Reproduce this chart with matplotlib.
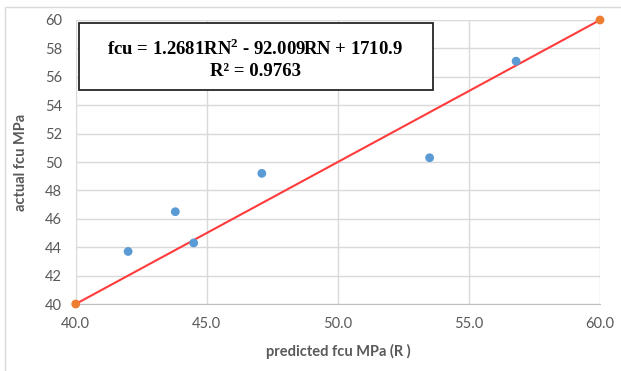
import matplotlib.pyplot as plt
from matplotlib.patches import Rectangle

plt.rcParams['mathtext.fontset'] = 'custom'
plt.rcParams['mathtext.bf'] = 'Liberation Serif:bold'
plt.rcParams['mathtext.rm'] = 'Liberation Serif:bold'

# data
predicted = [42.0, 43.8, 44.5, 47.1, 53.5, 56.8]
actual = [43.7, 46.5, 44.3, 49.2, 50.3, 57.1]
ends_x = [40, 60]
ends_y = [40, 60]
xticks = [40, 45, 50, 55, 60]
yticks = [40, 42, 44, 46, 48, 50, 52, 54, 56, 58, 60]

W, H = 621, 371
fig = plt.figure(figsize=(W / 100, H / 100), dpi=100)
ax = fig.add_axes([75.7 / W, 1 - 304 / H, (600 - 75.7) / W, (304 - 20) / H])

# outer chart border (only left/top edges fall inside the picture)
fig.patches.append(Rectangle((5 / W, -0.05), 1.2, 1.05 - 7 / H, transform=fig.transFigure,
                             fill=False, edgecolor='#d9d9d9', lw=1))

ax.plot(ends_x, ends_y, color='#ff3b3b', lw=1.5, zorder=2)
ax.scatter(predicted, actual, s=40, color='#5b9bd5', zorder=3, edgecolors='none')
ax.scatter(ends_x, ends_y, s=40, color='#ed7d31', zorder=4, edgecolors='none', clip_on=False)

ax.set_xlim(40, 60)
ax.set_ylim(40, 60)
ax.set_xticks(xticks)
ax.set_xticklabels([f'{v:.1f}' for v in xticks])
ax.set_yticks(yticks)
ax.grid(True, color='#d9d9d9', lw=1)
ax.set_axisbelow(True)
for s in ['top', 'right', 'left']:
    ax.spines[s].set_visible(False)
ax.spines['bottom'].set_color('#bfbfbf')
ax.tick_params(axis='x', length=0, colors='#595959', labelsize=10.5, pad=9)
ax.tick_params(axis='y', length=0, colors='#595959', labelsize=10.5, pad=10)
for lab in ax.get_xticklabels() + ax.get_yticklabels():
    lab.set_family('Lato')

ax.set_xlabel('predicted fcu MPa (R )', fontsize=10.5, fontweight='bold', color='#595959',
              family='Lato', labelpad=10)
ax.set_ylabel('actual fcu MPa', fontsize=10.5, fontweight='bold', color='#595959',
              family='Lato', labelpad=12)

# equation box
fig.patches.append(Rectangle((79 / W, 1 - 90 / H), 354 / W, 67 / H, transform=fig.transFigure,
                             facecolor='white', edgecolor='#262626', lw=1.3, zorder=5))
fig.text(255 / W, 1 - 49 / H, r'fcu = 1.2681RN$^{\mathbf{2}}$ - 92.009RN + 1710.9', ha='center', va='center',
         family='Liberation Serif', fontweight='bold', fontsize=13.5, zorder=6)
fig.text(255 / W, 1 - 72 / H, 'R² = 0.9763', ha='center', va='center',
         family='Liberation Serif', fontweight='bold', fontsize=13.5, zorder=6)

fig.savefig('out.png', dpi=100)
